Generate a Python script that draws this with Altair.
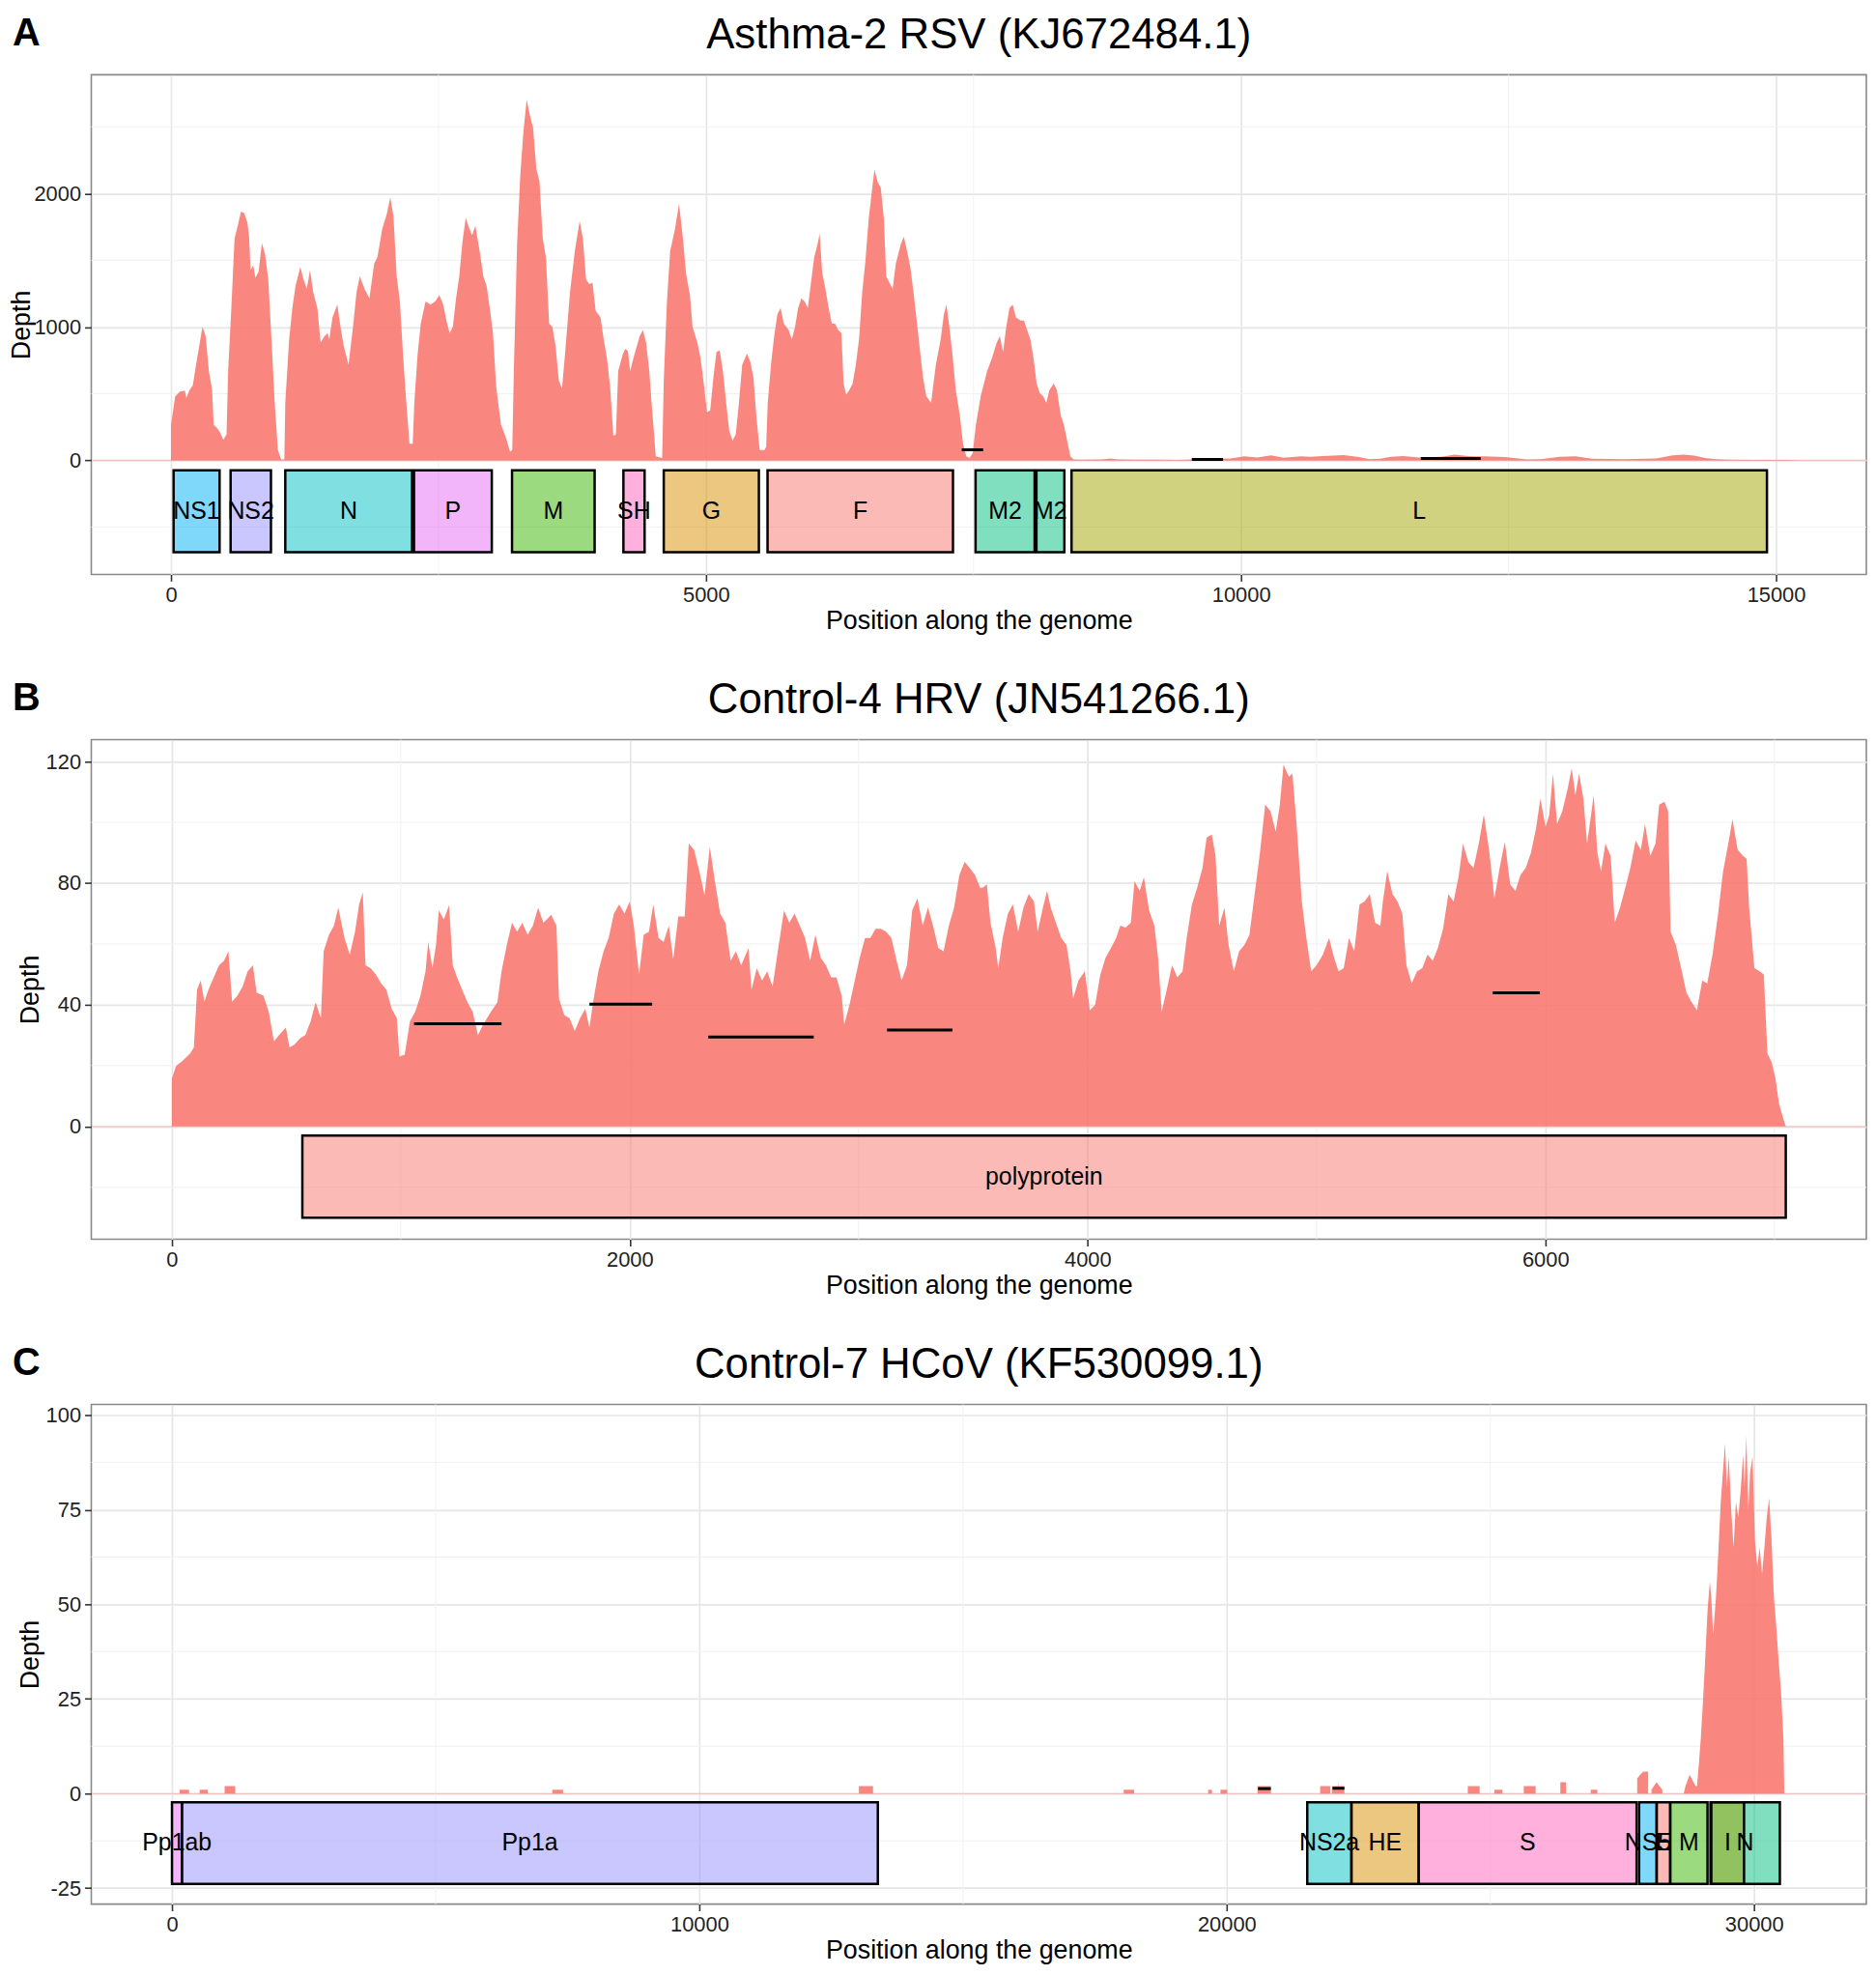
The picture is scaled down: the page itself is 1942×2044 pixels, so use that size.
import altair as alt
import pandas as pd

FONT = "Liberation Sans"

# ---------------- Panel A: Asthma-2 RSV ----------------
a_pos = [0, 39, 84, 129, 144, 174, 204, 234, 264, 294, 324, 354, 384, 399, 429, 459, 489, 519, 534, 564,
         594, 624, 654, 684, 714, 729, 744, 768, 789, 819, 849, 879, 909, 939, 969, 999, 1029, 1059, 1068, 1104,
         1134, 1164, 1209, 1239, 1269, 1299, 1329, 1368, 1398, 1434, 1464, 1479, 1509, 1554, 1584, 1614, 1659, 1704, 1734, 1764,
         1809, 1854, 1899, 1929, 1974, 2019, 2049, 2079, 2109, 2139, 2169, 2199, 2229, 2259, 2274, 2304, 2334, 2379, 2424, 2469,
         2508, 2544, 2574, 2604, 2634, 2664, 2694, 2724, 2754, 2784, 2814, 2844, 2889, 2919, 2949, 2979, 3009, 3039, 3084, 3129,
         3168, 3189, 3204, 3234, 3264, 3294, 3324, 3354, 3384, 3414, 3444, 3474, 3504, 3534, 3564, 3594, 3624, 3654, 3684, 3729,
         3774, 3819, 3849, 3879, 3909, 3939, 3969, 4014, 4044, 4074, 4104, 4134, 4158, 4179, 4224, 4246, 4270, 4291, 4321, 4350,
         4380, 4410, 4440, 4470, 4491, 4515, 4530, 4590, 4605, 4635, 4665, 4710, 4748, 4784, 4814, 4850, 4874, 4919, 4949, 4979,
         5009, 5039, 5069, 5098, 5128, 5158, 5188, 5218, 5248, 5278, 5308, 5338, 5383, 5413, 5443, 5472, 5502, 5547, 5562, 5577,
         5607, 5637, 5667, 5697, 5727, 5772, 5802, 5832, 5861, 5891, 5921, 5951, 5981, 6011, 6041, 6062, 6086, 6116, 6146, 6176,
         6206, 6235, 6265, 6286, 6310, 6340, 6370, 6400, 6430, 6460, 6490, 6520, 6550, 6574, 6603, 6633, 6663, 6684, 6714, 6744,
         6774, 6819, 6849, 6879, 6909, 6939, 6969, 6998, 7028, 7058, 7103, 7148, 7193, 7223, 7247, 7274, 7304, 7334, 7372, 7402,
         7432, 7462, 7492, 7522, 7567, 7627, 7672, 7717, 7746, 7776, 7806, 7836, 7866, 7896, 7941, 7971, 8001, 8031, 8061, 8090,
         8120, 8150, 8180, 8210, 8249, 8279, 8315, 8345, 8375, 8405, 8435,
         8500, 8700, 8780, 8850, 9000, 9200, 9400, 9500, 9600, 9800, 9903, 10030, 10150, 10280, 10400, 10560, 10650, 10760, 10960, 11100,
         11200, 11300, 11400, 11515, 11666, 11870, 12000, 12120, 12270, 12470, 12670, 12800, 12980, 13127, 13280, 13580, 13880, 14034, 14135, 14235,
         14336, 14437, 14538, 14790, 15090, 15225]
a_depth = [267, 480, 516, 523, 469, 528, 563, 717, 859, 1001, 930, 670, 528, 267, 244, 208, 154, 196, 670, 1143,
           1664, 1759, 1865, 1853, 1782, 1688, 1427, 1463, 1368, 1415, 1629, 1546, 1356, 907, 433, 78, 7, 7, 433, 907,
           1143, 1309, 1451, 1356, 1285, 1427, 1262, 1143, 883, 930, 954, 907, 1072, 1167, 1001, 859, 717, 1025, 1262, 1380,
           1285, 1214, 1475, 1522, 1735, 1853, 1972, 1830, 1380, 1191, 788, 433, 125, 125, 433, 788, 1025, 1191, 1167, 1191,
           1238, 1167, 1049, 954, 1001, 1214, 1380, 1640, 1818, 1747, 1688, 1759, 1546, 1380, 1309, 1143, 954, 552, 267, 173,
           66, 78, 670, 1617, 2137, 2469, 2705, 2587, 2492, 2185, 2090, 1664, 1522, 1025, 1001, 859, 599, 540, 812, 1262,
           1569, 1794, 1664, 1356, 1321, 1333, 1120, 1072, 907, 765, 552, 185, 196, 670, 800, 836, 820, 670, 765, 847,
           930, 978, 883, 670, 433, 196, 31, 19, 599, 1191, 1569, 1735, 1924, 1664, 1396, 1238, 1001, 883, 765, 575,
           362, 374, 623, 812, 824, 670, 433, 220, 149, 196, 433, 717, 800, 741, 623, 315, 78, 78, 102, 433,
           717, 930, 1096, 1143, 1025, 978, 907, 1001, 1143, 1214, 1191, 1143, 1333, 1522, 1617, 1700, 1404, 1285, 1143, 1025,
           1025, 978, 954, 575, 492, 528, 575, 717, 907, 1262, 1498, 1806, 2019, 2180, 2090, 2043, 1806, 1380, 1333, 1285,
           1475, 1617, 1676, 1569, 1451, 1262, 1049, 836, 623, 481, 433, 717, 907, 1096, 1167, 1001, 788, 528, 338, 125,
           31, 19, 54, 267, 481, 670, 765, 883, 930, 812, 1001, 1143, 1167, 1072, 1049, 1049, 978, 907, 765, 575,
           504, 481, 433, 528, 575, 528, 338, 267, 149, 31, 7,
           6, 8, 14, 8, 5, 6, 4, 6, 10, 12, 14, 30, 22, 38, 20, 30, 27, 32, 40, 25,
           10, 12, 28, 33, 22, 28, 43, 32, 30, 26, 8, 10, 28, 31, 12, 10, 14, 38, 44, 36,
           18, 10, 5, 4, 3, 0]

a_genes = ["NS1", "NS2", "N", "P", "M", "SH", "G", "F", "M2", "M2", "L"]
a_start = [24, 557, 1068, 2271, 3187, 4228, 4605, 5575, 7519, 8088, 8416]
a_end = [454, 934, 2253, 2998, 3959, 4426, 5494, 7308, 8071, 8349, 14915]
a_seg_x1 = [7390, 9540, 11680]
a_seg_x2 = [7590, 9832, 12240]
a_seg_y = [80, 8, 15]

# ---------------- Panel B: Control-4 HRV ----------------
b_pos = [0, 18, 46, 80, 96, 110, 126, 142, 160, 183, 206, 228, 247, 263, 286, 309, 331, 354, 370, 400,
         423, 446, 468, 498, 514, 537, 560, 583, 606, 628, 651, 663, 686, 708, 727, 754, 777, 800, 818, 834,
         846, 868, 891, 914, 937, 960, 983, 994, 1017, 1040, 1063, 1086, 1108, 1120, 1138, 1154, 1166, 1188, 1211, 1227,
         1246, 1268, 1291, 1314, 1337, 1360, 1394, 1422, 1440, 1463, 1486, 1508, 1531, 1554, 1577, 1600, 1623, 1657, 1680, 1691,
         1714, 1737, 1760, 1783, 1806, 1824, 1840, 1863, 1886, 1908, 1931, 1954, 1977, 2000, 2018, 2041, 2061, 2084, 2103, 2126,
         2148, 2171, 2190, 2212, 2240, 2258, 2281, 2304, 2327, 2350, 2372, 2395, 2418, 2441, 2464, 2487, 2519, 2532, 2555, 2578,
         2601, 2624, 2651, 2674, 2697, 2720, 2743, 2766, 2788, 2811, 2834, 2857, 2880, 2903, 2926, 2937, 2960, 2983, 3005, 3028,
         3051, 3074, 3097, 3120, 3143, 3166, 3188, 3211, 3234, 3257, 3280, 3303, 3325, 3348, 3371, 3394, 3417, 3440, 3463, 3485,
         3508, 3531, 3542, 3560, 3576, 3599, 3610, 3629, 3652, 3674, 3697, 3720, 3743, 3766, 3782, 3805, 3823, 3839, 3862, 3885,
         3908, 3926, 3937, 3960, 3988, 4010, 4033, 4056, 4079, 4102, 4125, 4143, 4166, 4189, 4205, 4228, 4246, 4269, 4292, 4308,
         4324, 4346, 4369, 4392, 4415, 4433, 4456, 4479, 4502, 4520, 4543, 4559, 4575, 4598, 4616, 4639, 4662, 4685, 4707, 4730,
         4753, 4776, 4799, 4822, 4840, 4856, 4879, 4895, 4913, 4936, 4954, 4977, 5000, 5028, 5055, 5073, 5096, 5119, 5142, 5165,
         5188, 5210, 5233, 5256, 5279, 5290, 5309, 5332, 5354, 5375, 5393, 5416, 5439, 5462, 5485, 5508, 5530, 5553, 5576, 5599,
         5622, 5640, 5663, 5686, 5709, 5731, 5754, 5777, 5800, 5823, 5846, 5869, 5891, 5914, 5937, 5960, 5978, 6001, 6017, 6033,
         6051, 6074, 6097, 6115, 6131, 6147, 6166, 6182, 6198, 6211, 6227, 6243, 6262, 6285, 6303, 6326, 6349, 6371, 6394, 6417,
         6435, 6458, 6481, 6497, 6520, 6536, 6547, 6570, 6593, 6616, 6639, 6662, 6685, 6707, 6730, 6753, 6776, 6799, 6817, 6840,
         6863, 6879, 6890, 6913, 6936, 6954, 6970, 6989, 7005, 7021, 7039, 7050]
b_depth = [15.7, 19.9, 21.5, 24, 26, 45, 48, 41, 45, 49, 53, 54.5, 57.6, 41, 43, 46, 51, 53, 44, 43,
           37.7, 28, 30, 32.5, 26, 27, 29, 30, 34.6, 40.8, 35.6, 57.6, 63, 66, 72, 62, 56.5, 64, 73, 77,
           53, 52, 50, 47, 45, 38.7, 35.6, 23, 23.6, 34.6, 37.7, 43, 51, 60.7, 52, 59.7, 71, 68, 72.8, 53,
           49, 45, 40.8, 37.7, 30, 33.5, 37.7, 40.8, 51, 59.7, 67, 64, 67, 63, 66, 72, 67, 69.6, 66, 42,
           36.6, 35.6, 31.4, 35.6, 38.7, 32.5, 40.8, 51, 57.6, 62, 70, 73, 70, 74, 66, 50, 63, 64, 73, 62,
           60.7, 66, 55, 69, 69, 93, 91, 84, 76, 92, 80.6, 70, 67, 54.5, 57.6, 53, 58.6, 45, 52, 48,
           51, 46, 59.7, 71, 67, 70, 66, 62, 54.5, 63, 55.5, 53, 49, 49, 43, 33.5, 40, 48, 55.5, 62,
           62, 65, 65, 64, 62, 54.5, 48, 53, 71, 75, 66, 72, 66, 58.6, 57.6, 66, 72, 82.7, 87, 85,
           82.7, 78.5, 78.5, 79.6, 67, 58.6, 52, 62, 70, 73, 64, 72, 76.4, 74, 64, 72, 77.5, 72, 67, 62,
           59.7, 51, 42, 48, 51, 38.2, 40, 50, 55.5, 58.6, 62, 66, 65.4, 67, 80.6, 77.5, 82, 71, 66, 55.5,
           37.7, 45, 53, 49, 51, 62, 73, 78.5, 85, 95, 96, 89, 66, 72, 59.7, 51, 57.6, 59.7, 63, 76.4,
           90, 105.8, 103.7, 97, 105.8, 119, 115, 116, 99.5, 74, 63, 51, 53, 56.5, 62, 56.5, 51, 52, 62, 57.6,
           73, 74, 76.4, 67, 66, 74, 84, 76.4, 74, 70, 53, 47, 51, 52, 56.5, 54.5, 58.6, 65, 76.4, 74,
           82.7, 93, 87, 85, 93, 102.6, 91, 75, 85, 93.7, 79.6, 77.5, 82.7, 85, 90, 98.4, 107.8, 98.4, 102.6, 116,
           99.5, 103.7, 111, 117.8, 109, 116, 107.8, 93, 101.6, 109, 90, 83.8, 93, 89, 67, 72, 78.5, 85, 94, 91,
           99.5, 89, 93, 105.8, 106.8, 103.7, 64, 59.7, 52, 44, 40.8, 38.2, 48, 47, 56.5, 69, 83.8, 93, 101, 91,
           89, 88, 72, 52, 51, 50, 24, 21, 15.7, 7.3, 2.6, 0]

b_genes = ["polyprotein"]
b_start = [570]
b_end = [7050]
b_seg_x1 = [1058, 1824, 2343, 3124, 5770]
b_seg_x2 = [1440, 2098, 2804, 3410, 5976]
b_seg_y = [33.8, 40.2, 29.4, 31.7, 43.9]

# ---------------- Panel C: Control-7 HCoV ----------------
c_pos = [0, 145, 145, 324, 324, 525, 525, 679, 679, 998, 998, 1199, 1199, 7213, 7213, 7416, 7416, 13026, 13026, 13294,
         13294, 18047, 18047, 18245, 18245, 19649, 19649, 19721, 19721, 19883, 19883, 20009, 20009, 20585, 20585, 20837, 20837, 21773, 21773, 21962,
         21962, 21998, 21998, 22110, 22115, 22120, 22232, 22232, 24572, 24572, 24797, 24797, 25076, 25076, 25229, 25229, 25634, 25634, 25859, 25859,
         26327, 26327, 26435, 26435, 26903, 26903, 27029, 27029, 27785, 27785, 27840, 27900, 27992, 27992, 28055, 28055, 28150, 28262, 28262, 28667,
         28700, 28780, 28892, 28919, 28955, 28991, 29027, 29072, 29117, 29162, 29189, 29225, 29279, 29324, 29369, 29405, 29450, 29486, 29522, 29567,
         29612, 29657, 29702, 29747, 29792, 29819, 29855, 29891, 29927, 29972, 30017, 30062, 30107, 30152, 30197, 30242, 30287, 30332, 30377, 30422,
         30467, 30512, 30557, 30575]
c_depth = [0, 0, 1, 1, 0, 0, 1, 1, 0, 0, 2, 2, 0, 0, 1, 1, 0, 0, 2, 2,
           0, 0, 1, 1, 0, 0, 1, 1, 0, 0, 1, 1, 0, 0, 2, 2, 0, 0, 2, 2,
           0, 0, 2, 2, 3, 2, 2, 0, 0, 2, 2, 0, 0, 1, 1, 0, 0, 2, 2, 0,
           0, 3, 3, 0, 0, 1, 1, 0, 0, 4, 5, 5.8, 5.8, 0, 0, 1, 3, 1, 0, 0,
           2, 5, 2, 2, 8, 14.6, 23, 35, 48, 56, 52, 42, 52, 64, 77, 84, 92.5, 81, 89, 75,
           65, 77, 73, 80, 89.6, 81, 94.6, 75, 85, 89, 67, 60, 65, 58, 65, 73, 78, 67, 52, 44,
           35, 27, 14.6, 0]

c_genes = ["Pp1ab", "Pp1a", "NS2a", "HE", "S", "NS5", "E", "M", "N", "I"]
c_start = [0, 190, 21528, 22366, 23641, 27821, 28154, 28411, 29174, 29190]
c_end = [190, 13385, 22366, 23641, 27773, 28154, 28411, 29118, 30490, 29811]
c_seg_x1 = [20594, 22007]
c_seg_x2 = [20837, 22232]
c_seg_y = [1.3, 1.4]

# gene fill colours (ggplot hue palette per panel)
a_colors = {"F": "#F8766D", "G": "#D89000", "L": "#A3A500", "M": "#39B600", "M2": "#00BF7D",
            "N": "#00BFC4", "NS1": "#00B0F6", "NS2": "#9590FF", "P": "#E76BF3", "SH": "#FF62BC"}
b_colors = {"polyprotein": "#F8766D"}
c_colors = {"E": "#F8766D", "HE": "#D89000", "I": "#A3A500", "M": "#39B600", "N": "#00BF7D",
            "NS2a": "#00BFC4", "NS5": "#00B0F6", "Pp1a": "#9590FF", "Pp1ab": "#E76BF3", "S": "#FF62BC"}


def panel(title, letter, pos, depth, genes, starts, ends, colors, sx1, sx2, sy,
          xdom, ydom, xticks, yticks, xminor, yminor, box_top, box_bot,
          width, height, yext, letter_x):
    xs = alt.Scale(domain=xdom, nice=False, zero=False)
    ys = alt.Scale(domain=ydom, nice=False, zero=False)
    xax = alt.Axis(values=xticks, title="Position along the genome", format="d",
                   titlePadding=3)
    yax = alt.Axis(values=yticks, title="Depth", labelExpr="'' + datum.value",
                   minExtent=yext, maxExtent=yext, titlePadding=-2)

    def X(f):
        return alt.X(f, type="quantitative", scale=xs, axis=xax)

    def Y(f):
        return alt.Y(f, type="quantitative", scale=ys, axis=yax)

    cov = pd.DataFrame({"pos": pos, "depth": depth})
    gdf = pd.DataFrame({"gene": genes, "start": starts, "end": ends})
    gdf["mid"] = (gdf["start"] + gdf["end"]) / 2
    gdf["top"] = box_top
    gdf["bot"] = box_bot
    gdf["ymid"] = (box_top + box_bot) / 2
    gdf["col"] = [colors[g] for g in genes]
    seg = pd.DataFrame({"x1": sx1, "x2": sx2, "y": sy})

    gx = alt.Chart(pd.DataFrame({"v": xminor})).mark_rule(
        color="#f1f1f1", strokeWidth=1).encode(x=X("v"))
    gy = alt.Chart(pd.DataFrame({"v": yminor})).mark_rule(
        color="#f1f1f1", strokeWidth=1).encode(y=Y("v"))
    zero = alt.Chart(pd.DataFrame({"z": [0]})).mark_rule(
        color="#F8766D", strokeOpacity=0.3, strokeWidth=1.5).encode(y=Y("z"))
    area = alt.Chart(cov).mark_area(color="#F8766D", opacity=0.88).encode(
        x=X("pos"), y=Y("depth"), y2=alt.datum(0))
    boxes = alt.Chart(gdf).mark_rect(stroke="black", strokeWidth=2.5, fillOpacity=0.5).encode(
        x=X("start"), x2=alt.X2("end"), y=Y("top"), y2=alt.Y2("bot"),
        fill=alt.Fill("col:N", scale=None))
    labels = alt.Chart(gdf).mark_text(font=FONT, fontSize=25, color="black",
                                      align="center", baseline="middle").encode(
        x=X("mid"), y=Y("ymid"), text="gene:N")
    segs = alt.Chart(seg).mark_rule(color="black", strokeWidth=3).encode(
        x=X("x1"), x2=alt.X2("x2"), y=Y("y"))
    heads = pd.DataFrame({"lab": [letter], "ttl": [title]})
    let = alt.Chart(heads).mark_text(
        font=FONT, fontSize=40, fontWeight="bold", color="black",
        align="left", baseline="top").encode(
        x=alt.value(letter_x), y=alt.value(-63), text="lab:N")
    ttl = alt.Chart(heads).mark_text(
        font=FONT, fontSize=44, color="black",
        align="center", baseline="top").encode(
        x=alt.value(width / 2), y=alt.value(-63), text="ttl:N")

    return alt.layer(gx, gy, zero, area, boxes, labels, segs, let, ttl).properties(
        width=width, height=height)


H = 520
W = 1848
pA = panel("Asthma-2 RSV (KJ672484.1)", "A", a_pos, a_depth, a_genes, a_start, a_end, a_colors,
           a_seg_x1, a_seg_x2, a_seg_y,
           [-745, 15844], [-854, 2890], [0, 5000, 10000, 15000], [0, 1000, 2000],
           [2500, 7500, 12500], [-500, 500, 1500, 2500], -75, -688,
           W, H, 60, -82)
pB = panel("Control-4 HRV (JN541266.1)", "B", b_pos, b_depth, b_genes, b_start, b_end, b_colors,
           b_seg_x1, b_seg_x2, b_seg_y,
           [-352, 7402], [-37.1, 127.2], [0, 2000, 4000, 6000], [0, 40, 80, 120],
           [1000, 3000, 5000, 7000], [-20, 20, 60, 100], -3, -30,
           W, H, 51, -82)
pC = panel("Control-7 HCoV (KF530099.1)", "C", c_pos, c_depth, c_genes, c_start, c_end, c_colors,
           c_seg_x1, c_seg_x2, c_seg_y,
           [-1530, 32130], [-29.2, 102.8], [0, 10000, 20000, 30000], [-25, 0, 25, 50, 75, 100],
           [5000, 15000, 25000], [-12.5, 12.5, 37.5, 62.5, 87.5], -2.3, -23.9,
           W, H, 51, -82)

chart = alt.concat(pA, pB, pC, columns=1, spacing=46).properties(
    padding={"left": 0, "top": 0, "right": 0, "bottom": 0}
).configure_view(
    stroke="#8a8a8a", strokeWidth=1.6
).configure_axis(
    domain=False,
    grid=True, gridColor="#e6e6e6", gridWidth=1.7,
    ticks=True, tickColor="#333333", tickSize=7, tickWidth=1.6,
    labelFont=FONT, labelFontSize=22, labelColor="#222222", labelPadding=4,
    titleFont=FONT, titleFontSize=27, titleFontWeight="normal", titleColor="black"
)

chart.save("out.html", embed_options={"renderer": "svg", "actions": False})
